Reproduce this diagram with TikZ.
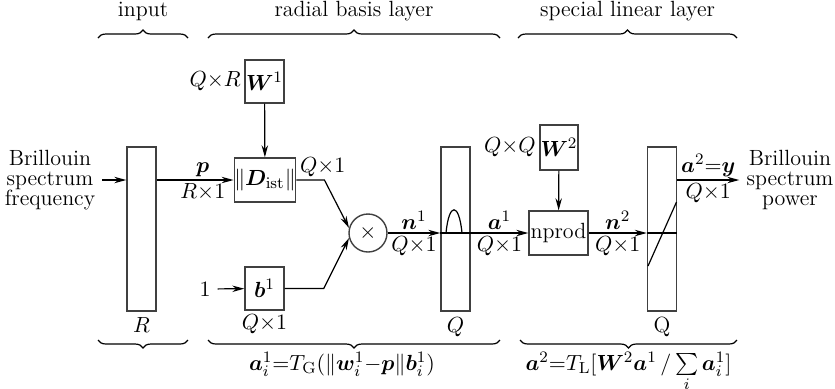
\documentclass[tikz,border=0pt]{standalone}
\usepackage{amsmath,amssymb}
\usepackage{bm}
\usetikzlibrary{positioning,arrows.meta,calc,decorations.pathreplacing}

\begin{document}
\begin{tikzpicture}[
  x=0.5pt, y=-0.5pt,
  >={Stealth[length=6pt,width=3.2pt]},
  font=\fontsize{11}{12}\selectfont,
  line width=0.6pt,
  blk/.style={draw=black!75, line width=0.7pt, inner sep=0pt},
  wbox/.style={blk, minimum width=19.5pt, minimum height=21.5pt},
  bar/.style={blk, minimum width=14.5pt, minimum height=82pt},
  prodnode/.style={blk, circle, minimum size=19pt},
  lbl/.style={inner sep=1.5pt},
  brc/.style={decorate, decoration={brace, amplitude=4pt}},
  brcdown/.style={decorate, decoration={brace, mirror, amplitude=4pt}},
  formula/.style={midway, anchor=base, yshift=-15pt, inner sep=0pt}
]

\useasboundingbox (0,0) rectangle (835,388);

% layer bars
\node[bar] (inbar) at (141.5,229) {};
\node[bar] (hidbar) at (455.5,229) {};
\node[bar] (outbar) at (662,229) {};

% input side
\node[align=center, font=\fontsize{11}{10}\selectfont] (freq) at (50,180) {Brillouin\\spectrum\\frequency};
\draw[->] (freq.east) -- (freq.east -| inbar.west);
\node[lbl, below=1pt of inbar] {$R$};

% radial basis layer
\node[wbox] (w1) at (264.5,81.5) {$\bm{W}^1$};
\node[blk, minimum width=30pt, minimum height=22pt] (dist) at (265,180) {$\|\bm{D}_{\mathrm{ist}}\|$};
\node[wbox] (b1) at (264.5,288.5) {$\bm{b}^1$};
\node[prodnode] (mult) at (368,233) {$\times$};
\node (one) at (205,289) {$1$};

\node[lbl, anchor=east] at (w1.west) {$Q{\times}R$};
\node[lbl, anchor=south west] at (dist.east) {$Q{\times}1$};
\node[lbl, below=0pt of b1] {$Q{\times}1$};

\draw[->] (w1) -- (dist);
\draw[->] (inbar.east |- dist.west) -- (dist.west)
  node[lbl, pos=0.6, above] {$\bm{p}$} node[lbl, pos=0.6, below] {$R{\times}1$};
\draw[->] (one) -- (b1);
\draw[->] (dist.east) -- ++(28,0) -- (mult.165);
\draw[->] (b1.east) -- ++(39,0) -- (mult.195);

\draw[->] (mult.east) -- (mult.east -| hidbar.west)
  node[lbl, midway, above] {$\bm{n}^1$} node[lbl, midway, below] {$Q{\times}1$};
\draw (mult.east -| hidbar.west) -- (mult.east -| hidbar.east);
\draw ($(hidbar.center)+(-9.5,4)$) .. controls +(3,-31) and +(-3,-31) .. ($(hidbar.center)+(6.5,4)$);
\node[lbl, below=1pt of hidbar] {$Q$};

% special linear layer
\node[blk, minimum width=29.5pt, minimum height=22pt] (nprod) at (558.5,233) {nprod};
\node[wbox, minimum width=19pt, minimum height=22.5pt] (w2) at (559,147.5) {$\bm{W}^2$};
\node[lbl, anchor=east] at (w2.west) {$Q{\times}Q$};

\draw[->] (mult.east -| hidbar.east) -- (nprod.west)
  node[lbl, midway, above] {$\bm{a}^1$} node[lbl, midway, below] {$Q{\times}1$};
\draw[->] (w2) -- (nprod);
\draw[->] (nprod.east) -- (nprod.east -| outbar.west)
  node[lbl, midway, above] {$\bm{n}^2$} node[lbl, midway, below] {$Q{\times}1$};
\draw (nprod.east -| outbar.west) -- (nprod.east -| outbar.east);
\draw ($(outbar.center)+(-14,37)$) -- ($(outbar.center)+(14.5,-27)$);
\node[lbl, below=1pt of outbar] {Q};

% output
\node[align=center, font=\fontsize{11}{10}\selectfont] (power) at (790,180) {Brillouin\\spectrum\\power};
\draw[->] (outbar.east |- power.west) -- (power.west)
  node[lbl, midway, above] {$\bm{a}^2{=}\bm{y}$} node[lbl, midway, below] {$Q{\times}1$};

% braces
\draw[brc] (98,38) -- (188,38) node[midway, above=5pt] {input};
\draw[brc] (208,38) -- (500,38) node[midway, above=5pt] {radial basis layer};
\draw[brc] (518,38) -- (737,38) node[midway, above=5pt] {special linear layer};
\draw[brcdown] (98,340) -- (188,340);
\draw[brcdown] (208,340) -- (500,340)
  node[formula, xshift=-6pt] {$\bm{a}_i^1{=}T_{\mathrm{G}}(\|\bm{w}_i^1{-}\bm{p}\|\bm{b}_i^1)$};
\draw[brcdown] (520,340) -- (737,340)
  node[formula] {$\bm{a}^2{=}T_{\mathrm{L}}[\bm{W}^2\bm{a}^1\,/\,\smash[b]{\sum\limits_{\raisebox{2pt}{$\scriptstyle i$}}}\,\bm{a}_i^1]$};

\end{tikzpicture}
\end{document}
